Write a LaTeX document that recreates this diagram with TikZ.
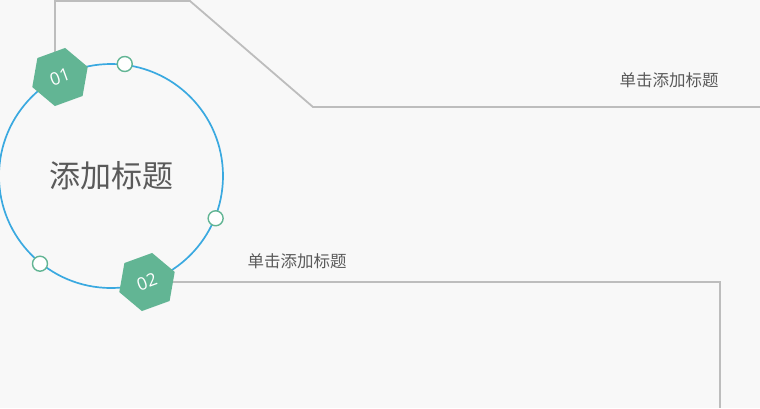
\documentclass[tikz,border=0pt]{standalone}
\usepackage{fontspec}
\setmainfont{Open Sans}
\newfontfamily\cjk{Noto Sans CJK SC}
\usetikzlibrary{shapes.geometric}
\definecolor{ringblue}{HTML}{3AA9E0}
\definecolor{hexgreen}{HTML}{62B594}
\definecolor{linegray}{HTML}{BDBDBD}
\definecolor{textgray}{HTML}{5A5A5A}
\definecolor{bggray}{HTML}{F8F8F8}

\begin{document}
\begin{tikzpicture}[x=1pt, y=-1pt,
  ring/.style={circle, draw=ringblue, line width=1.7pt, minimum size=224pt, inner sep=0pt},
  hexa/.style={regular polygon, regular polygon sides=6, fill=hexgreen, minimum size=59pt,
    inner sep=0pt, rotate=20, text=white, font=\fontsize{17.5}{17.5}\selectfont},
  dot/.style={circle, draw=hexgreen, fill=white, line width=1.4pt, minimum size=15pt, inner sep=0pt},
  title/.style={text=textgray, font=\cjk\fontsize{16.5}{16.5}\selectfont},
  frame/.style={draw=linegray, line width=1.8pt}]
  \fill[bggray] (0,0) rectangle (760,408);
  \useasboundingbox (0,0) rectangle (760,408);

  % ring and its title
  \node[ring] (ring) at (111,176) {};
  \node[text=textgray, font=\cjk\fontsize{31}{31}\selectfont] (main) at (ring.center) {添加标题};

  \coordinate (c1) at (60,77);
  \coordinate (c2) at (147,282);
  \coordinate (t1) at (55,1);
  \coordinate (t2) at (190,1);
  \coordinate (t3) at (313,107);
  \coordinate (t4) at (760,107);
  \coordinate (b1) at (720,282);
  \coordinate (b2) at (720,408);

  % frames
  \draw[frame] (t1 |- c1) -- (t1) -- (t2) -- (t3) -- (t4);
  \draw[frame] (c2) -- (b1) -- (b2);

  \node[hexa] (h1) at (c1) {01};
  \node[hexa] (h2) at (c2) {02};

  \foreach \a/\n in {83/d1, -22/d2, 231/d3}
    \node[dot] (\n) at (ring.\a) {};

  \node[title] (title1) at (669,80) {单击添加标题};
  \node[title] (title2) at (297,261) {单击添加标题};
\end{tikzpicture}
\end{document}
